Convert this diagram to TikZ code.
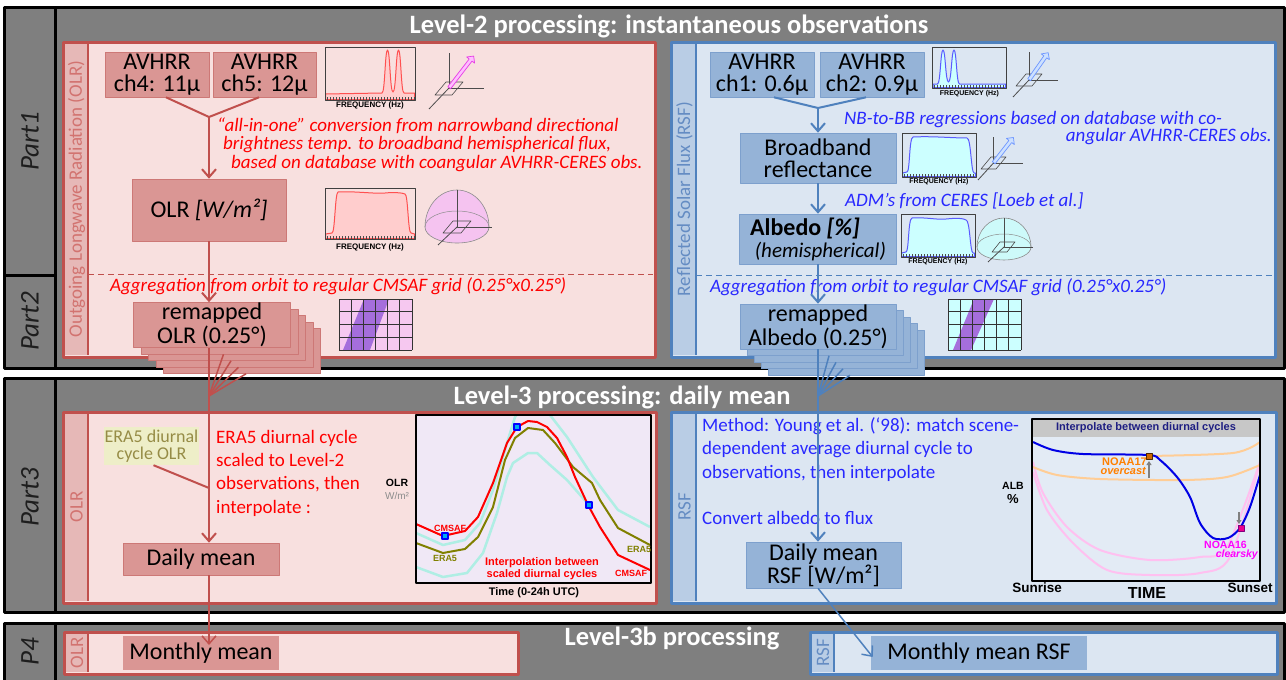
\documentclass[tikz,border=0pt]{standalone}
\usepackage{fontspec}
\setmainfont{Carlito}
\newfontfamily\arialf{Liberation Sans}
\usetikzlibrary{arrows.meta,shapes.arrows,calc}
\definecolor{frameGray}{RGB}{127,127,127}
\definecolor{partTxt}{RGB}{30,30,30}
\definecolor{redBorder}{RGB}{192,80,77}
\definecolor{redBg}{RGB}{248,224,223}
\definecolor{redStrip}{RGB}{230,184,183}
\definecolor{redStripTxt}{RGB}{210,115,112}
\definecolor{redBox}{RGB}{218,150,148}
\definecolor{redBoxEdge}{RGB}{205,120,118}
\definecolor{blueBorder}{RGB}{79,129,189}
\definecolor{blueBg}{RGB}{220,230,242}
\definecolor{blueStrip}{RGB}{185,205,229}
\definecolor{blueStripTxt}{RGB}{100,140,195}
\definecolor{blueBox}{RGB}{149,179,215}
\definecolor{blueBoxEdge}{RGB}{125,160,205}
\definecolor{txtRed}{RGB}{255,0,0}
\definecolor{txtBlue}{RGB}{40,40,255}
\definecolor{eraBox}{RGB}{238,238,200}
\definecolor{eraTxt}{RGB}{150,140,70}
\definecolor{oliveL}{RGB}{128,128,0}
\definecolor{plotLav}{RGB}{240,232,246}
\definecolor{cyanL}{RGB}{175,238,228}
\definecolor{orangeL}{RGB}{255,205,150}
\definecolor{pinkL}{RGB}{255,192,240}
\definecolor{navyT}{RGB}{30,30,130}
\definecolor{fqRedFill}{RGB}{255,205,205}
\definecolor{fqRedLine}{RGB}{255,80,80}
\definecolor{fqBlueFill}{RGB}{204,255,255}
\definecolor{fqBlueLine}{RGB}{90,90,255}
\definecolor{gridPink}{RGB}{246,200,240}
\definecolor{gridCyan}{RGB}{204,255,255}
\definecolor{bandPurple}{RGB}{165,110,220}
\definecolor{hemiPink}{RGB}{245,195,240}
\definecolor{hemiCyan}{RGB}{205,250,250}
\definecolor{arrMag}{RGB}{230,60,230}
\definecolor{arrPink}{RGB}{255,190,255}
\definecolor{arrBlue}{RGB}{110,150,255}
\definecolor{arrLBlue}{RGB}{205,225,255}
\definecolor{orangeT}{RGB}{255,128,0}
\definecolor{magT}{RGB}{255,0,255}
\newcommand\fqticks[2]{\foreach \i in {2,5,...,#1} \draw[black!70, line width=0.5pt] (\i,#2) -- (\i,{#2-3});}
\begin{document}
\begin{tikzpicture}[x=1pt,y=-1pt, line join=round,
  frame/.style={draw=black, fill=frameGray, line width=3pt},
  ttl/.style={text=white, font=\fontsize{26.5}{30}\selectfont\bfseries, inner sep=0},
  partlbl/.style={rotate=90, font=\fontsize{27}{30}\selectfont\itshape, text=partTxt, inner sep=0},
  rpanel/.style={draw=redBorder, fill=redBg, line width=3pt},
  bpanel/.style={draw=blueBorder, fill=blueBg, line width=3pt},
  rstriplbl/.style={rotate=90, text=redStripTxt, font=\fontsize{19}{22}\selectfont, inner sep=0},
  bstriplbl/.style={rotate=90, text=blueStripTxt, font=\fontsize{19}{22}\selectfont, inner sep=0},
  rbox/.style={fill=redBox, draw=redBoxEdge, line width=0.6pt, inner sep=0, align=center, font=\fontsize{24}{22}\selectfont},
  bbox/.style={fill=blueBox, draw=blueBoxEdge, line width=0.6pt, inner sep=0, align=center, font=\fontsize{24}{22}\selectfont},
  rline/.style={draw=redBorder, line width=2pt},
  bline/.style={draw=blueBorder, line width=2pt},
  rarrow/.style={rline, -{Straight Barb[length=8pt,width=14pt]}},
  barrow/.style={bline, -{Straight Barb[length=8pt,width=14pt]}},
  rtxt/.style={text=txtRed, font=\fontsize{19}{22}\selectfont\itshape, inner sep=0, anchor=base west},
  btxt/.style={text=txtBlue, font=\fontsize{19}{22}\selectfont\itshape, inner sep=0, anchor=base west},
  rtxtup/.style={text=txtRed, font=\fontsize{19}{22}\selectfont, inner sep=0, anchor=base west},
  btxtup/.style={text=txtBlue, font=\fontsize{19}{22}\selectfont, inner sep=0, anchor=base west},
  fqlbl/.style={font=\arialf\bfseries\fontsize{8}{9}\selectfont, inner sep=0},
  fqlbls/.style={font=\arialf\bfseries\fontsize{7}{8}\selectfont, inner sep=0},
  plbl/.style={font=\arialf\bfseries\fontsize{10}{12}\selectfont, inner sep=0},
  axl/.style={draw=black!70, line width=0.8pt},
  sq/.style={draw=blue, fill=cyan, line width=1.2pt, minimum size=6pt, inner sep=0},
  sarr/.style={single arrow, inner sep=1.3pt, single arrow head extend=3pt, minimum width=10pt, anchor=tail, line width=0.7pt},
]
\fill[white] (0,0) rectangle (1286,680);
\useasboundingbox (0,0) rectangle (1286,680);
\clip (0,0) rectangle (1286,680);

% ---------- frames ----------
\draw[frame] (4,7) rectangle (1284,368);
\draw[line width=3pt] (55,7) -- (55,368);
\draw[line width=3pt] (4,275) -- (55,275);
\draw[frame] (4,378) rectangle (1284,612);
\draw[line width=3pt] (55,378) -- (55,612);
\draw[frame] (4,623) rectangle (1284,700);
\draw[line width=3pt] (55,623) -- (55,700);

\node[partlbl] (p1) at (30,141) {Part1};
\node[partlbl] (p2) at (30,321) {Part2};
\node[partlbl] (p3) at (30,497) {Part3};
\node[partlbl] (p4) at (30,652) {P4};

\node[ttl, anchor=base] (t2) at (669,34) {Level-2 processing: instantaneous observations};
\node[ttl, anchor=base] (t3) at (622,404) {Level-3 processing: daily mean};
\node[ttl, anchor=base] (t3b) at (672,645) {Level-3b processing};

% ---------- Level-2 panels ----------
\draw[rpanel] (63,42) rectangle (655,357);
\fill[redStrip] (65,44) rectangle (88,355);
\draw[redBorder, line width=1.5pt] (88,44) -- (88,355);
\node[rstriplbl] (olrlbl) at (76.5,199) {Outgoing Longwave Radiation (OLR)};

\draw[bpanel] (671,42) rectangle (1275,357);
\fill[blueStrip] (673,44) rectangle (696,355);
\draw[blueBorder, line width=1.5pt] (696,44) -- (696,355);
\node[bstriplbl] (rsflbl) at (684.5,199) {Reflected Solar Flux (RSF)};

\draw[redBorder, line width=1pt, dash pattern=on 6pt off 4pt] (88,274) -- (653,274);
\draw[blueBorder, line width=1pt, dash pattern=on 6pt off 4pt] (696,275) -- (1273,275);

% ---------- red (OLR) Level-2 ----------
\node[rbox, minimum width=104pt, minimum height=45pt] (ch4) at (157,74.5) {AVHRR\\ch4: 11µ};
\node[rbox, minimum width=103pt, minimum height=45pt] (ch5) at (264.5,74.5) {AVHRR\\ch5: 12µ};
\node[rbox, minimum width=154pt, minimum height=62pt] (olr) at (209,210) {OLR \textit{[W/m²]}};

\node[rtxt] (d1) at (217,131) {“all-in-one” conversion from narrowband directional};
\node[rtxt] (d2) at (223,149) {brightness temp. to broadband hemispherical flux,};
\node[rtxt] (d3) at (231,168) {based on database with coangular AVHRR-CERES obs.};
\node[rtxt] (agr) at (110,291) {Aggregation from orbit to regular CMSAF grid (0.25°x0.25°)};

\coordinate (rm) at (209,117);
\draw[rline] ([xshift=9pt]ch4.south) -- (rm);
\draw[rline] ([xshift=-5.5pt]ch5.south) -- (rm);
\draw[rarrow] (rm) -- (olr.north);

% frequency plot 1 (red, narrow)
\begin{scope}[shift={(325,47)}]
  \filldraw[fill=fqRedFill, draw=fqRedLine, line width=1pt] (0.5,52.5) -- (0.5,47) -- (57,46) .. controls (60,46) and (60,3) .. (62.5,3) .. controls (65,3) and (65,45) .. (68,45) .. controls (71,45) and (71,3) .. (73.5,3) .. controls (76,3) and (76,46) .. (79,46) -- (89.5,46) -- (89.5,52.5) -- cycle;
  \draw[black!75, line width=0.9pt] (0,0) rectangle (90,53);
  \fqticks{89}{53}
  \node[fqlbl] at (45,58) {FREQUENCY (Hz)};
\end{scope}
% 3D icon 1
\draw[axl] (449,53) -- (449,88) -- (484,88);
\draw[axl] (429,109) -- (449,88);
\draw[axl, line width=0.6pt] (435,95) -- (446,82) -- (463,82) -- (452,95) -- cycle;
\node[sarr, draw=arrMag, fill=arrPink, minimum height=40pt, rotate=52.3] (a1) at (449,88) {};

% frequency plot 2 (red, broad)
\begin{scope}[shift={(325,188)}]
  \filldraw[fill=fqRedFill, draw=fqRedLine, line width=1pt] (0.5,50.5) -- (0.5,46) -- (7,45) .. controls (10,45) and (10,5) .. (13,4) .. controls (30,3) and (50,6) .. (60,5) .. controls (70,4) and (78,5) .. (80,6) .. controls (83,6) and (83,45) .. (86,45) -- (89.5,46) -- (89.5,50.5) -- cycle;
  \draw[black!75, line width=0.9pt] (0,0) rectangle (90,51);
  \fqticks{89}{51}
  \node[fqlbl] at (45,59) {FREQUENCY (Hz)};
\end{scope}
% hemisphere red
\filldraw[fill=hemiPink, draw=black!45, line width=0.6pt] (425,227) arc[start angle=180,end angle=0,x radius=32pt,y radius=37pt] arc[start angle=0,end angle=-180,x radius=32pt,y radius=16pt] -- cycle;
\draw[black!45, line width=0.5pt] (425,227) arc[start angle=180,end angle=0,x radius=32pt,y radius=16pt];
\draw[axl] (457,190) -- (457,227) -- (492,227);
\draw[axl] (438,245) -- (457,227);
\draw[axl, line width=0.6pt] (443,233) -- (453,221) -- (471,221) -- (461,233) -- cycle;

% remapped OLR stack
\foreach \k in {4,3,2,1} \node[rbox, minimum width=157pt, minimum height=45pt] (rb\k) at ({212+7.5*\k},{325+6.5*\k}) {};
\node[rbox, minimum width=157pt, minimum height=45pt, font=\fontsize{24}{24}\selectfont] (remap) at (212,325) {remapped\\OLR (0.25°)};
% grid red
\begin{scope}[shift={(339,299)}]
  \fill[gridPink] (0,0) rectangle (73,51);
  \fill[bandPurple] (4,51) -- (31,51) -- (50,0) -- (25,0) -- cycle;
  \foreach \i in {0,...,6} \draw[black!80, line width=0.9pt] ({73*\i/6},0) -- ({73*\i/6},51);
  \foreach \j in {0,...,4} \draw[black!80, line width=0.9pt] (0,{51*\j/4}) -- (73,{51*\j/4});
\end{scope}

% ---------- blue (RSF) Level-2 ----------
\node[bbox, minimum width=104pt, minimum height=45pt] (ch1) at (762,74.5) {AVHRR\\ch1: 0.6µ};
\node[bbox, minimum width=104pt, minimum height=45pt] (ch2) at (872,74.5) {AVHRR\\ch2: 0.9µ};
\node[bbox, minimum width=156pt, minimum height=50pt] (bb) at (818,158) {Broadband\\reflectance};
\node[bbox, minimum width=157pt, minimum height=50pt, align=left] (alb) at (818,239) {\textbf{Albedo} \textbf{\textit{[\%]}}\\\fontsize{21}{22}\selectfont\textit{\ (hemispherical)}};

\node[btxt] (n1) at (844,124) {NB-to-BB regressions based on database with co-};
\node[btxt, anchor=base east] (n2) at (1272,141) {angular AVHRR-CERES obs.};
\node[btxt] (n3) at (845,206) {ADM’s from CERES [Loeb et al.]};
\node[btxt] (agb) at (710,292) {Aggregation from orbit to regular CMSAF grid (0.25°x0.25°)};

\coordinate (bm) at (818,108);
\draw[bline] ([xshift=12pt]ch1.south) -- (bm);
\draw[bline] ([xshift=-6pt]ch2.south) -- (bm);
\draw[barrow] (bm) -- (bb.north);
\draw[barrow] (bb.south) -- (alb.north);

% blue freq plot 1
\begin{scope}[shift={(932.5,47)}]
  \filldraw[fill=fqBlueFill, draw=fqBlueLine, line width=1pt] (0.5,40.5) -- (0.5,37) -- (5,37) .. controls (8,37) and (8,3) .. (10.5,3) .. controls (13,3) and (13,35) .. (16,35) .. controls (19,35) and (19,3) .. (21.5,3) .. controls (24,3) and (24,37) .. (27,37) -- (73,37) -- (73,40.5) -- cycle;
  \draw[black!75, line width=0.9pt] (0,0) rectangle (73.5,41);
  \fqticks{72}{41}
  \node[fqlbls] at (37,47) {FREQUENCY (Hz)};
\end{scope}
\draw[axl] (1029,52) -- (1029,80) -- (1058,80);
\draw[axl] (1013,97) -- (1029,80);
\draw[axl, line width=0.6pt] (1016,86) -- (1026,74) -- (1042,74) -- (1032,86) -- cycle;
\node[sarr, draw=arrBlue, fill=arrLBlue, minimum height=33pt, rotate=54.9] (a2) at (1029,80) {};

% blue freq plot 2
\begin{scope}[shift={(902,133)}]
  \filldraw[fill=fqBlueFill, draw=fqBlueLine, line width=1pt] (0.5,43.5) -- (0.5,40) -- (5,39) .. controls (8,39) and (7,5) .. (11,4) .. controls (30,3) and (50,5) .. (65,5) .. controls (69,5) and (69,39) .. (72,40) -- (73.5,40) -- (73.5,43.5) -- cycle;
  \draw[black!75, line width=0.9pt] (0,0) rectangle (74,44);
  \fqticks{73}{44}
  \node[fqlbls] at (37,49) {FREQUENCY (Hz)};
\end{scope}
\draw[axl] (993.5,137) -- (993.5,163) -- (1023,163);
\draw[axl] (978,180) -- (993.5,163);
\draw[axl, line width=0.6pt] (981,169) -- (991,157) -- (1006,157) -- (996,169) -- cycle;
\node[sarr, draw=arrBlue, fill=arrLBlue, minimum height=32pt, rotate=52] (a3) at (993.5,163) {};

% blue freq plot 3
\begin{scope}[shift={(901,214)}]
  \filldraw[fill=fqBlueFill, draw=fqBlueLine, line width=1pt] (0.5,42.5) -- (0.5,39) -- (5,38) .. controls (8,38) and (7,5) .. (11,4) .. controls (25,3) and (35,6) .. (45,5) .. controls (55,4) and (62,4) .. (65,6) .. controls (69,6) and (69,38) .. (72,39) -- (73.5,39) -- (73.5,42.5) -- cycle;
  \draw[black!75, line width=0.9pt] (0,0) rectangle (74,43);
  \fqticks{73}{43}
  \node[fqlbls] at (37,48) {FREQUENCY (Hz)};
\end{scope}
% hemisphere blue
\filldraw[fill=hemiCyan, draw=black!45, line width=0.6pt] (977,247) arc[start angle=180,end angle=0,x radius=27pt,y radius=29pt] arc[start angle=0,end angle=-180,x radius=27pt,y radius=13pt] -- cycle;
\draw[black!45, line width=0.5pt] (977,247) arc[start angle=180,end angle=0,x radius=27pt,y radius=13pt];
\draw[axl] (1004,218) -- (1004,247) -- (1033,247);
\draw[axl] (988,262) -- (1004,247);
\draw[axl, line width=0.6pt] (992,252) -- (1000,242) -- (1015,242) -- (1007,252) -- cycle;

% remapped Albedo stack
\foreach \k in {4,3,2,1} \node[bbox, minimum width=156pt, minimum height=45pt] (ab\k) at ({818+7*\k},{326.5+6.5*\k}) {};
\node[bbox, minimum width=156pt, minimum height=45pt, font=\fontsize{24}{24}\selectfont] (remapA) at (818,326.5) {remapped\\Albedo (0.25°)};
\draw[barrow] (alb.south) -- (remapA.north);
% grid blue
\begin{scope}[shift={(948,299)}]
  \fill[gridCyan] (0,0) rectangle (73,51);
  \fill[bandPurple] (5,51) -- (23,51) -- (46,0) -- (26,0) -- cycle;
  \foreach \i in {0,...,6} \draw[black!80, line width=0.9pt] ({73*\i/6},0) -- ({73*\i/6},51);
  \foreach \j in {0,...,4} \draw[black!80, line width=0.9pt] (0,{51*\j/4}) -- (73,{51*\j/4});
\end{scope}

% ---------- Level-3 panels ----------
\draw[rpanel] (63,412) rectangle (656,603);
\fill[redStrip] (65,414) rectangle (88,601);
\draw[redBorder, line width=1.5pt] (88,414) -- (88,601);
\node[rstriplbl] (olrlbl3) at (76.5,507) {OLR};

\draw[bpanel] (671,412) rectangle (1276,603);
\fill[blueStrip] (673,414) rectangle (696,601);
\draw[blueBorder, line width=1.5pt] (696,414) -- (696,601);
\node[bstriplbl] (rsflbl3) at (684.5,507) {RSF};

\node[fill=eraBox, inner sep=0, minimum width=95pt, minimum height=38pt, align=center, text=eraTxt, font=\fontsize{18}{17}\selectfont] (era) at (151.5,446) {ERA5 diurnal\\cycle OLR};
\node[rtxtup] (e1) at (216,443) {ERA5 diurnal cycle};
\node[rtxtup] (e2) at (216,466) {scaled to Level-2};
\node[rtxtup] (e3) at (216,489) {observations, then};
\node[rtxtup] (e4) at (216,513) {interpolate :};
\node[rbox, minimum width=156pt, minimum height=32pt] (daily) at (201,559) {Daily mean};

% OLR diurnal plot
\fill[plotLav] (416,415) rectangle (651,583);
\begin{scope}
  \clip (416,415) rectangle (651,583);
  \draw[cyanL, line width=2.5pt] (416,533) -- (443,545) -- (465,540) -- (480,523) -- (493,490) -- (507,443) -- (515,417) -- (522,408) -- (545,408) -- (550,415) -- (567,437) -- (593,477) -- (618,510) -- (650,527);
  \draw[cyanL, line width=2.5pt] (416,567) -- (443,577) -- (467,573) -- (483,553) -- (497,513) -- (507,477) -- (513,463) -- (528,453) -- (537,453) -- (550,465) -- (567,480) -- (589,505);
  \draw[oliveL, line width=2pt] (416,543) -- (443,553) -- (465,549) -- (478,537) -- (493,507) -- (505,460) -- (515,438) -- (528,428) -- (543,430) -- (555,443) -- (573,467) -- (592,483) -- (600,500) -- (618,528) -- (650,545);
  \draw[red, line width=2pt] (416,524) -- (443,536) -- (465,531) -- (478,517) -- (493,483) -- (507,443) -- (517,427) -- (528,421) -- (537,422) -- (547,427) -- (557,438) -- (567,457) -- (575,477) -- (588,505) -- (600,527) -- (618,555) -- (650,570);
\end{scope}
\draw[black, line width=1.8pt] (416,415) rectangle (651,583);
\node[sq] (s1) at (445,536) {};
\node[sq] (s2) at (517,427) {};
\node[sq] (s3) at (589,505) {};
\node[plbl, text=red, font=\arialf\bfseries\fontsize{9}{10}\selectfont] (cm1) at (450,528) {CMSAF};
\node[plbl, text=oliveL, font=\arialf\bfseries\fontsize{9}{10}\selectfont] (er1) at (445,558) {ERA5};
\node[plbl, text=red, align=center, font=\arialf\bfseries\fontsize{11}{12}\selectfont] (ib) at (542,569) {Interpolation between\\scaled diurnal cycles};
\node[plbl, text=oliveL, font=\arialf\bfseries\fontsize{9}{10}\selectfont] (er2) at (639,549) {ERA5};
\node[plbl, text=red, font=\arialf\bfseries\fontsize{9}{10}\selectfont] (cm2) at (631,573) {CMSAF};
\node[plbl, font=\arialf\bfseries\fontsize{10.5}{12}\selectfont] (olry) at (397,483) {OLR};
\node[plbl, text=black!45, font=\arialf\fontsize{10}{12}\selectfont] (wm) at (397,496) {W/m²};
\node[plbl, font=\arialf\bfseries\fontsize{11}{12}\selectfont] (tx) at (534,593) {Time (0-24h UTC)};

% blue Level-3
\node[btxtup] (m1) at (702,431) {Method: Young et al. (‘98): match scene-};
\node[btxtup] (m2) at (702,454) {dependent average diurnal cycle to};
\node[btxtup] (m3) at (702,478) {observations, then interpolate};
\node[btxtup] (m4) at (702,524) {Convert albedo to flux};
\node[bbox, minimum width=155pt, minimum height=46pt, font=\fontsize{24}{23}\selectfont] (dailyR) at (823.5,565) {Daily mean\\RSF [W/m²]};

% RSF diurnal plot
\fill[blueBg!80!white] (1032,419) rectangle (1260,581);
\fill[black!22] (1032,419) rectangle (1260,437);
\begin{scope}
  \clip (1032,437) rectangle (1260,581);
  \draw[pinkL, line width=2pt] plot[smooth] coordinates {(1033,462) (1043,493) (1067,527) (1100,550) (1150,560) (1200,557) (1227,547) (1260,462)};
  \draw[pinkL, line width=2pt] plot[smooth] coordinates {(1033,472) (1047,510) (1073,543) (1107,570) (1150,575) (1200,573) (1230,557) (1260,463)};
  \draw[orangeL, line width=2pt] plot[smooth] coordinates {(1033,467) (1057,475) (1100,479) (1183,480) (1227,477) (1260,465)};
  \draw[orangeL, line width=2pt] plot[smooth] coordinates {(1148,456) (1233,453) (1260,442)};
  \draw[blue!90!black, line width=2pt] plot[smooth] coordinates {(1033,442) (1053,450) (1083,454) (1148,455) (1160,460) (1177,477) (1190,497) (1200,523) (1213,538) (1228,538) (1240,528) (1250,507) (1260,475)};
\end{scope}
\draw[black, line width=1.8pt] (1032,419) rectangle (1260,581);
\node[plbl, text=navyT, font=\arialf\bfseries\fontsize{11}{12}\selectfont] (ihd) at (1146,428) {Interpolate between diurnal cycles};
\draw[black!50, line width=1.5pt, -{Triangle[length=4pt,width=5pt]}] (1149,478) -- (1149,461);
\draw[black!50, line width=1.5pt, -{Triangle[length=4pt,width=5pt]}] (1239,512) -- (1239,524);
\node[draw=black!70!orange, fill=orange!80!black, line width=1pt, minimum size=6pt, inner sep=0] (o17) at (1149,456) {};
\node[draw=violet, fill=magenta, line width=1pt, minimum size=6pt, inner sep=0] (o16) at (1241,528) {};
\node[plbl, text=orangeT, anchor=east, font=\arialf\bfseries\fontsize{11}{12}\selectfont] (n17) at (1147,462) {NOAA17};
\node[plbl, text=orangeT, anchor=east, font=\arialf\bfseries\itshape\fontsize{11}{12}\selectfont] (ov) at (1146,471) {overcast};
\node[plbl, text=magT, anchor=west, font=\arialf\bfseries\fontsize{10.5}{12}\selectfont] (n16) at (1204,545) {NOAA16};
\node[plbl, text=magT, anchor=east, font=\arialf\bfseries\itshape\fontsize{10.5}{12}\selectfont] (cs) at (1258,555) {clearsky};
\node[plbl, font=\arialf\bfseries\fontsize{10.5}{12}\selectfont] (alby) at (1013,486) {ALB};
\node[plbl, font=\arialf\bfseries\fontsize{13}{14}\selectfont] (pct) at (1013,499) {\%};
\node[plbl, font=\arialf\bfseries\fontsize{13.5}{14}\selectfont] (sr) at (1037,588) {Sunrise};
\node[plbl, font=\arialf\bfseries\fontsize{16}{17}\selectfont] (tm) at (1147,593) {TIME};
\node[plbl, font=\arialf\bfseries\fontsize{13.5}{14}\selectfont] (ss) at (1250,588) {Sunset};

% ---------- Level-3b panels ----------
\draw[rpanel] (64,632) rectangle (518,674);
\fill[redStrip] (66,634) rectangle (88,672);
\draw[redBorder, line width=1.5pt] (88,634) -- (88,672);
\node[rstriplbl] (olrlbl4) at (77,653) {OLR};
\node[rbox, minimum width=156pt, minimum height=34pt, draw=none] (monthly) at (201,653) {Monthly mean};

\draw[bpanel] (810,632) rectangle (1277,674);
\fill[blueStrip] (812,634) rectangle (834,672);
\draw[blueBorder, line width=1.5pt] (834,634) -- (834,672);
\node[bstriplbl] (rsflbl4) at (823,653) {RSF};
\node[bbox, minimum width=216pt, minimum height=34pt, draw=none] (monthlyR) at (979,653) {Monthly mean RSF};

% ---------- connectors across levels ----------
\coordinate (rf) at (209,396);
\coordinate (bf) at (818,396);
\coordinate (rj) at (209,488);
\coordinate (rmt) at (209,645);
\draw[rarrow] (olr.south) -- (olr.south |- remap.north);
\foreach \k in {1,...,4} \draw[rline, line width=1.5pt] ([xshift=4pt]rb\k.south) -- (rf);
\draw[rarrow] (remap.south -| rf) -- (daily.north -| rf);
\draw[rline] ([xshift=2pt]era.south) -- (rj);
\draw[rline, line width=1.5pt, -{Straight Barb[length=8pt,width=14pt]}] (daily.south -| rf) -- (rmt);

\foreach \k in {1,...,4} \draw[bline, line width=1.5pt] ([xshift=4pt]ab\k.south) -- (bf);
\draw[barrow] (remapA.south -| bf) -- (dailyR.north -| bf);
\draw[bline, line width=1.5pt, -{Straight Barb[length=8pt,width=14pt]}] (dailyR.south -| bf) -- ([xshift=2pt,yshift=-4pt]monthlyR.west);
\end{tikzpicture}
\end{document}
